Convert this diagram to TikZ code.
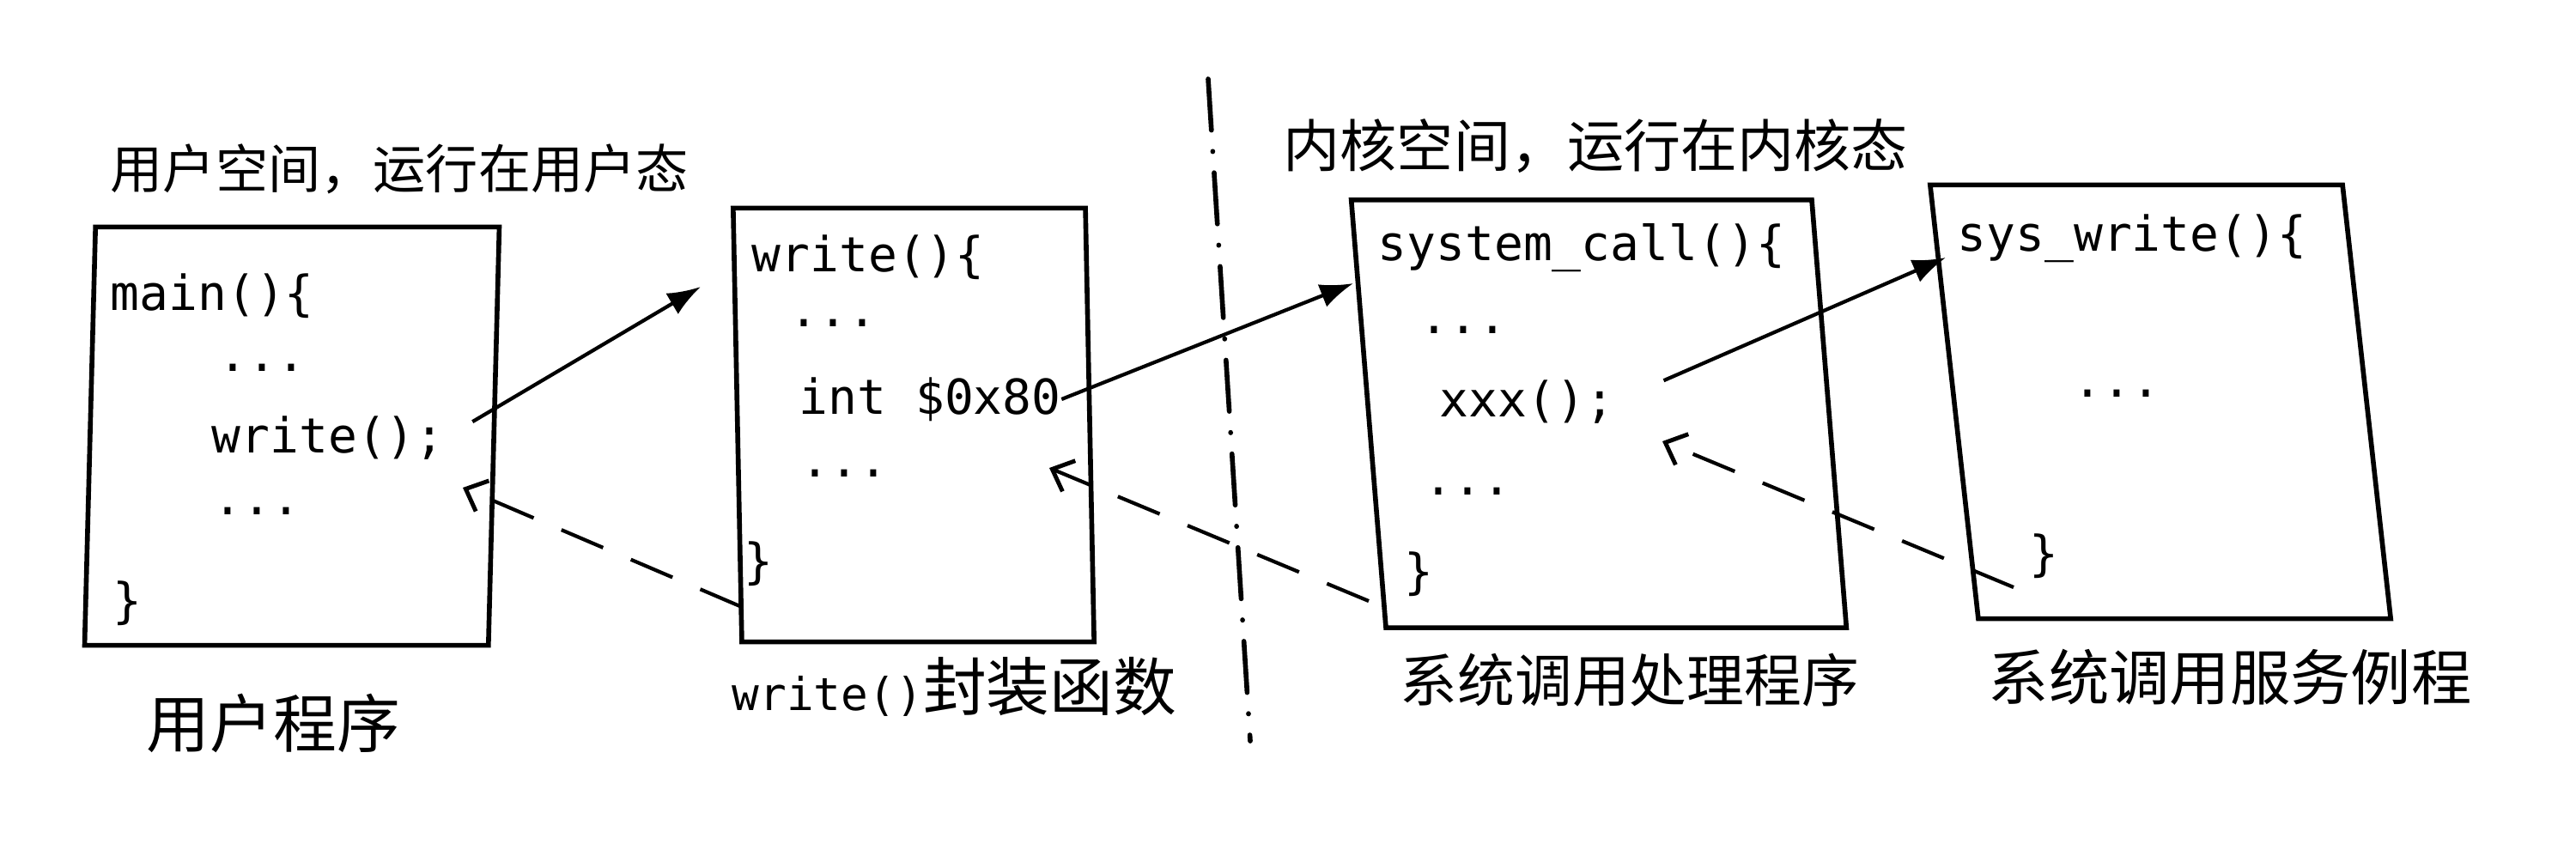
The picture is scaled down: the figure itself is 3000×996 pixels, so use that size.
\documentclass[tikz,border=0pt]{standalone}
\usepackage{fontspec}
\setmonofont{DejaVu Sans Mono}
\newfontfamily\cjk{Noto Sans CJK SC}
\usetikzlibrary{arrows.meta}
\begin{document}
\begin{tikzpicture}[x=0.01cm,y=-0.01cm,
  boxnode/.style={draw, line width=1.6pt, inner sep=0pt, transform shape},
  code/.style={anchor=west, inner sep=0pt, font=\ttfamily\fontsize{16pt}{18pt}\selectfont},
  lab/.style={anchor=west, inner sep=0pt, font=\cjk\fontsize{#1}{24pt}\selectfont},
  callarrow/.style={line width=1.2pt, -{Latex[length=11pt,width=8pt]}},
  retarrow/.style={line width=1.2pt, dash pattern=on 15pt off 10pt, -{Straight Barb[length=6pt,width=11pt,line width=1.4pt]}},
  divider/.style={line width=1.6pt, line cap=round, dash pattern=on 17pt off 7pt on 0.1pt off 7pt}]
\useasboundingbox (0,0) rectangle (3000,996);
\fill[white] (0,0) rectangle (3000,996);

% boxes (slightly slanted like the hand drawing)
\begin{scope}[shift={(340,508)}]
  \node[boxnode, xslant=0.026, minimum width=4.70cm, minimum height=4.87cm] (b1) at (0,0) {};
\end{scope}
\begin{scope}[shift={(1064,495)}]
  \node[boxnode, xslant=-0.02, minimum width=4.10cm, minimum height=5.05cm] (b2) at (0,0) {};
\end{scope}
\begin{scope}[shift={(1862,482)}]
  \node[boxnode, xslant=-0.081, minimum width=5.36cm, minimum height=4.98cm] (b3) at (0,0) {};
\end{scope}
\begin{scope}[shift={(2516,468)}]
  \node[boxnode, xslant=-0.111, minimum width=4.80cm, minimum height=5.05cm] (b4) at (0,0) {};
\end{scope}

% titles and labels
\node[lab=17.4pt] (t1) at (128,197) {用户空间，运行在用户态};
\node[lab=18.8pt] (t2) at (1494,170) {内核空间，运行在内核态};
\node[lab=21pt] (l1) at (170,842) {用户程序};
\node[lab=21pt] (l2) at (852,800) {{\ttfamily\fontsize{15pt}{18pt}\selectfont write()}封装函数};
\node[lab=19pt] (l3) at (1630,792) {系统调用处理程序};
\node[lab=20pt] (l4) at (2315,789) {系统调用服务例程};

% code of box 1
\node[code] (c1a) at (128,345) {main()\{};
\node[code] (c1b) at (254,428) {...};
\node[code] (c1w) at (246,510) {write();};
\node[code] (c1d) at (248,595) {...};
\node[code] (c1e) at (131,703) {\}};
% code of box 2
\node[code] (c2a) at (875,300) {write()\{};
\node[code] (c2b) at (919,376) {...};
\node[code] (c2i) at (930,465) {int \$0x80};
\node[code] (c2d) at (932,551) {...};
\node[code] (c2e) at (866,657) {\}};
% code of box 3
\node[code] (c3a) at (1604,289) {system\_call()\{};
\node[code] (c3b) at (1653,384) {...};
\node[code] (c3x) at (1676,468) {xxx();};
\node[code] (c3d) at (1658,572) {...};
\node[code] (c3e) at (1635,669) {\}};
% code of box 4
\node[code] (c4a) at (2279,278) {sys\_write()\{};
\node[code] (c4b) at (2414,458) {...};
\node[code] (c4e) at (2363,648) {\}};

% connector ends
\coordinate (in2) at (816,334);
\coordinate (in3) at (1576,330);
\coordinate (in4) at (2266,300);
\coordinate (ret1) at (539,568);
\coordinate (ret2) at (1222,545);
\coordinate (ret3) at (1936,514);
\coordinate (from2) at (864,707);
\coordinate (from3) at (1594,700);
\coordinate (from4) at (2345,684);
\coordinate (dtop) at (1407,92);
\coordinate (dbot) at (1456,863);

% divider between user and kernel space
\draw[divider] (dtop) -- (dbot);

% calls
\draw[callarrow, shorten <=0.37cm] (c1w.east) -- (in2);
\draw[callarrow] (c2i.east) -- (in3);
\draw[callarrow, shorten <=0.62cm] (c3x.east) -- (in4);
% returns
\draw[retarrow] (from2) -- (ret1);
\draw[retarrow] (from3) -- (ret2);
\draw[retarrow] (from4) -- (ret3);
\end{tikzpicture}
\end{document}
